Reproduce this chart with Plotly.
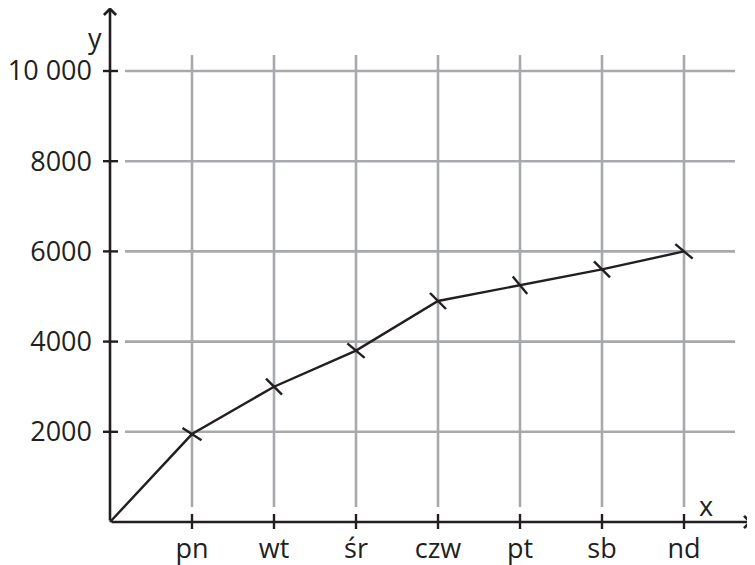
import plotly.graph_objects as go

# ---- data ----
days = ["pn", "wt", "śr", "czw", "pt", "sb", "nd"]
day_pos = [1, 2, 3, 4, 5, 6, 7]
values = [1950, 3000, 3800, 4900, 5250, 5600, 6000]
origin_x = [0]
origin_y = [0]
y_ticks = [2000, 4000, 6000, 8000, 10000]
y_tick_text = ["2000", "4000", "6000", "8000", "10 000"]

# ---- geometry / styles ----
OFF = 8                          # page body margin in the browser
W, H = 755 - OFF, 565 - OFF      # figure size
X0_PX, Y0_PX = 110, 522          # pixel position of origin (window coords)
PX_PER_X = 82.0                  # pixels per day
PX_PER_Y = 0.0451                # pixels per unit

def xv(px):
    return (px - X0_PX) / PX_PER_X

def yv(py):
    return (Y0_PX - py) / PX_PER_Y

INK = "#231f20"
GRID = "#a7a9ac"
FONT = "Open Sans"

fig = go.Figure()

fig.add_trace(go.Scatter(
    x=origin_x + day_pos,
    y=origin_y + values,
    mode="lines",
    line=dict(color=INK, width=2.4),
    hoverinfo="skip",
    showlegend=False,
))
fig.add_trace(go.Scatter(
    x=day_pos,
    y=values,
    mode="markers",
    marker=dict(symbol="line-nw", size=16, angle=[-12, 0, -5, 0, 5, 0, -5],
                line=dict(color=INK, width=2.4)),
    showlegend=False,
))

shapes = []
# vertical grid lines
for d in day_pos:
    shapes.append(dict(type="line", xref="x", yref="y", x0=d, x1=d,
                       y0=yv(507), y1=yv(55), line=dict(color=GRID, width=2.6),
                       layer="below"))
# horizontal grid lines
for v in y_ticks:
    shapes.append(dict(type="line", xref="x", yref="y", x0=xv(125), x1=xv(735),
                       y0=v, y1=v, line=dict(color=GRID, width=2.6), layer="below"))
# axis ticks (crossing)
for d in day_pos:
    shapes.append(dict(type="line", xref="x", yref="y", x0=d, x1=d,
                       y0=yv(514), y1=yv(529), line=dict(color=INK, width=2.4)))
for v in y_ticks:
    shapes.append(dict(type="line", xref="x", yref="y", x0=xv(103), x1=xv(118),
                       y0=v, y1=v, line=dict(color=INK, width=2.4)))

annotations = [
    # x axis with arrow
    dict(x=xv(752), y=0, ax=0, ay=0, xref="x", yref="y", axref="x", ayref="y",
         text="", showarrow=True, arrowhead=4, arrowsize=0.9, arrowwidth=2.6,
         arrowcolor=INK),
    # y axis with arrow
    dict(x=0, y=yv(7), ax=0, ay=0, xref="x", yref="y", axref="x", ayref="y",
         text="", showarrow=True, arrowhead=4, arrowsize=0.9, arrowwidth=2.6,
         arrowcolor=INK),
    dict(x=xv(706), y=yv(505), xref="x", yref="y", text="x", showarrow=False,
         font=dict(family=FONT, size=27, color=INK)),
    dict(x=xv(95), y=yv(37), xref="x", yref="y", text="y", showarrow=False,
         font=dict(family=FONT, size=27, color=INK)),
]

fig.update_layout(
    width=W, height=H,
    margin=dict(l=0, r=0, t=0, b=0),
    plot_bgcolor="white", paper_bgcolor="white",
    shapes=shapes,
    annotations=annotations,
    xaxis=dict(
        range=[xv(OFF), xv(OFF + W)],
        tickvals=day_pos, ticktext=days,
        showgrid=False, zeroline=False, showline=False, ticks="",
        anchor="free", position=(OFF + H - Y0_PX) / H,
        tickfont=dict(family=FONT, size=27, color=INK),
        ticklabelstandoff=8, ticklabeloverflow="allow",
        automargin=False, fixedrange=True,
    ),
    yaxis=dict(
        range=[yv(OFF + H), yv(OFF)],
        tickvals=y_ticks, ticktext=y_tick_text,
        showgrid=False, zeroline=False, showline=False, ticks="",
        anchor="free", position=(X0_PX - OFF) / W,
        tickfont=dict(family=FONT, size=27, color=INK),
        ticklabelstandoff=18, ticklabeloverflow="allow",
        automargin=False, fixedrange=True,
    ),
)

fig.write_html("out.html")
